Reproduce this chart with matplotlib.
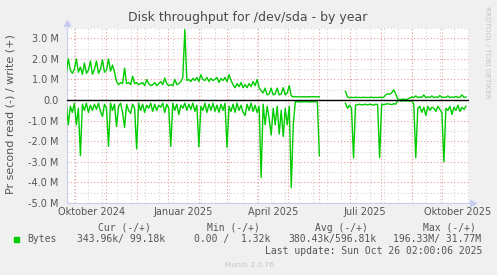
import numpy as np
import pandas as pd
import matplotlib
matplotlib.use("Agg")
import matplotlib.pyplot as plt
from matplotlib.patches import Rectangle

# daily averages sampled every 2 days, values in M bytes/s
start = "2024-09-22"
step_days = 2
write_vals = [
    1.3, 2.0, 1.45, 1.3, 1.5, 2.0, 1.35, 1.6, 1.25, 1.8,
    1.3, 1.45, 1.9, 1.25, 1.5, 1.9, 1.3, 1.5, 1.95, 1.35,
    1.45, 2.0, 1.4, 1.7, 1.35, 0.9, 0.75, 0.85, 0.8, 1.55,
    0.8, 0.85, 0.75, 1.15, 0.8, 0.85, 0.75, 0.8, 0.85, 0.7,
    1.0, 0.8, 0.7, 0.75, 0.85, 0.7, 0.8, 0.9, 0.75, 1.07,
    0.8, 0.7, 0.75, 0.7, 1.0, 0.75, 0.8, 0.9, 1.1, 3.42,
    0.95, 1.0, 0.9, 1.05, 0.95, 1.1, 0.9, 1.23, 1.0, 0.95,
    1.1, 0.9, 1.05, 0.95, 1.0, 1.1, 0.85, 1.05, 0.95, 1.1,
    0.9, 1.23, 0.95, 0.75, 0.6, 0.8, 0.65, 0.85, 0.6, 0.75,
    0.6, 0.8, 0.65, 0.9, 0.7, 1.0, 0.6, 0.45, 0.35, 0.58,
    0.25, 0.3, 0.58, 0.25, 0.3, 0.58, 0.25, 0.3, 0.6, 0.25,
    0.35, 0.7, 0.2, 0.16, 0.16, 0.16, 0.16, 0.16, 0.16, 0.16,
    0.16, 0.16, 0.16, 0.16, 0.16, 0.16, 0.16, None, None, None,
    None, None, None, None, None, None, None, None, None, 0.42,
    0.14, 0.12, 0.13, 0.12, 0.14, 0.12, 0.13, 0.12, 0.14, 0.12,
    0.13, 0.12, 0.14, 0.12, 0.13, 0.12, 0.14, 0.12, 0.13, 0.25,
    0.3, 0.28, 0.35, 0.5, 0.3, 0.05, 0.02, 0.03, 0.05, 0.02,
    0.05, 0.1, 0.15, 0.12, 0.2, 0.12, 0.15, 0.13, 0.25, 0.12,
    0.15, 0.13, 0.2, 0.12, 0.15, 0.13, 0.22, 0.12, 0.14, 0.13,
    0.2, 0.12, 0.15, 0.13, 0.18, 0.12, 0.14, 0.25, 0.13, 0.15,
]
read_vals = [
    -0.2, -1.2, -0.3, -0.6, -0.15, -1.2, -0.4, -2.7, -0.2, -0.5,
    -0.15, -0.6, -0.25, -0.5, -0.2, -0.45, -0.15, -0.55, -0.8, -0.2,
    -0.4, -2.25, -0.15, -0.5, -0.2, -1.28, -0.3, -0.15, -0.6, -1.33,
    -0.2, -0.5, -0.65, -0.2, -0.4, -2.37, -0.15, -0.5, -0.2, -0.6,
    -0.25, -0.4, -0.15, -0.55, -0.2, -0.5, -0.25, -0.35, -0.15, -0.6,
    -0.2, -0.4, -2.25, -0.15, -0.5, -0.2, -0.7, -0.25, -0.4, -0.15,
    -0.5, -0.2, -0.45, -0.15, -0.55, -0.25, -2.28, -0.3, -0.5, -0.15,
    -0.6, -0.2, -0.5, -0.15, -0.55, -0.25, -0.6, -0.2, -0.5, -0.15,
    -2.3, -0.3, -0.55, -0.2, -0.6, -0.15, -0.5, -0.25, -0.6, -0.75,
    -0.2, -0.5, -0.15, -0.55, -0.25, -0.6, -0.3, -3.76, -0.2, -1.2,
    -0.3, -0.9, -1.7, -0.4, -1.2, -0.3, -1.65, -0.5, -1.77, -0.4,
    -1.2, -0.3, -4.25, -1.2, -0.08, -0.08, -0.08, -0.1, -0.08, -0.08,
    -0.08, -0.1, -0.08, -0.08, -0.08, -0.1, -2.7, None, None, None,
    None, None, None, None, None, None, None, None, None, -0.15,
    -0.4, -0.25, -0.4, -2.8, -0.25, -0.22, -0.2, -0.24, -0.22, -0.2,
    -0.24, -0.2, -0.22, -0.25, -0.2, -0.22, -2.8, -0.2, -0.22, -0.2,
    -0.18, -0.2, -0.22, -0.18, -0.2, -0.03, -0.03, -0.05, -0.03, -0.04,
    -0.03, -0.05, -0.03, -0.2, -2.8, -0.4, -0.3, -0.6, -0.35, -0.75,
    -0.3, -0.5, -0.35, -0.4, -0.55, -0.3, -0.45, -0.6, -3.0, -0.4,
    -0.5, -0.3, -0.7, -0.35, -0.5, -0.25, -0.55, -0.35, -0.45, -0.3,
]
x_labels = ["Oktober 2024", "Januar 2025", "April 2025", "Juli 2025", "Oktober 2025"]
x_label_dates = ["2024-10-17", "2025-01-16", "2025-04-16", "2025-07-16", "2025-10-17"]
y_ticks = [3, 2, 1, 0, -1, -2, -3, -4, -5]
y_ticklabels = ["3.0 M", "2.0 M", "1.0 M", "0.0", "-1.0 M", "-2.0 M", "-3.0 M", "-4.0 M", "-5.0 M"]
legend_cols = ["Cur (-/+)", "Min (-/+)", "Avg (-/+)", "Max (-/+)"]
legend_vals = ["343.96k/ 99.18k", "0.00 /  1.32k", "380.43k/596.81k", "196.33M/ 31.77M"]

dates = pd.date_range(start, periods=len(write_vals), freq=f"{step_days}D")
w = np.array([np.nan if v is None else v for v in write_vals]) * 1e6
r = np.array([np.nan if v is None else v for v in read_vals]) * 1e6

txt = "#555555"
green = "#00CC00"
fig = plt.figure(figsize=(4.97, 2.75), dpi=100, facecolor="#F0F0F0")
ax = fig.add_axes([67/497, 72/275, 401.5/497, 175/275])
ax.set_facecolor("white")

xmin, xmax = pd.Timestamp("2024-09-22 16:00"), pd.Timestamp("2025-10-27 12:00")
ax.set_xlim(xmin, xmax)
ax.set_ylim(-5e6, 3.5e6)

# grid: gray every 2 weeks / half M, red every month / 1 M
for d in pd.date_range("2024-09-30", xmax, freq="14D"):
    ax.axvline(d, color="#D4D4D4", lw=0.8, ls=(0, (1, 2)), zorder=1)
for y in np.arange(-4.5, 3.6, 1.0):
    ax.axhline(y*1e6, color="#D4D4D4", lw=0.8, ls=(0, (1, 2)), zorder=1)
for d in pd.date_range("2024-10-01", xmax, freq="MS"):
    ax.axvline(d, color="#E8A0A0", lw=0.8, ls=(0, (1, 2)), zorder=1.5)
for y in y_ticks:
    ax.axhline(y*1e6, color="#E8A0A0", lw=0.8, ls=(0, (1, 2)), zorder=1.5)

ax.plot(dates, w, color=green, lw=1.0, zorder=3)
ax.plot(dates, r, color=green, lw=1.0, zorder=3)
ax.axhline(0, color="black", lw=1.0, zorder=4)

for s in ["top", "right"]:
    ax.spines[s].set_visible(False)
for s in ["left", "bottom"]:
    ax.spines[s].set_color("#C8CCF0")
    ax.spines[s].set_linewidth(0.8)
ax.plot([0], [1.03], marker="^", color="#C8CCF0", ms=5, transform=ax.transAxes, clip_on=False)
ax.plot([1.01], [0], marker=">", color="#C8CCF0", ms=5, transform=ax.transAxes, clip_on=False)

ax.set_yticks([y*1e6 for y in y_ticks])
ax.set_yticklabels(y_ticklabels)
ax.set_xticks(pd.to_datetime(x_label_dates))
ax.set_xticklabels(x_labels)
ax.tick_params(length=0, labelsize=7, labelcolor=txt, pad=3)
ax.tick_params(axis="y", pad=6)
ax.set_ylabel("Pr second read (-) / write (+)", fontsize=8, color=txt)
ax.yaxis.set_label_coords(-0.128, 0.51)

fig.text(248/497, 1 - 18/275, "Disk throughput for /dev/sda - by year", ha="center", va="center",
         fontsize=9, color="#4a4a4a")
fig.text(487/497, 1 - 52/275, "RRDTOOL / TOBI OETIKER", rotation=270, ha="center", va="center",
         fontsize=5.2, color="#C4C4C4")

mono = "DejaVu Sans Mono"
col_x = [98, 207, 315, 423]
for cx, lab in zip(col_x, legend_cols):
    fig.text(cx/497, 1 - 228/275, lab, family=mono, fontsize=7, color=txt, va="center")
fig.add_artist(Rectangle((14/497, 1 - 242/275), 5/497, 5/275, color=green, transform=fig.transFigure))
fig.text(27/497, 1 - 239/275, "Bytes", family=mono, fontsize=7, color=txt, va="center")
val_x = [77, 194, 288, 393]
for vx, v in zip(val_x, legend_vals):
    fig.text(vx/497, 1 - 239/275, v, family=mono, fontsize=7, color=txt, va="center")
fig.text(482/497, 1 - 251/275, "Last update: Sun Oct 26 02:00:06 2025", family=mono, fontsize=7,
         color=txt, va="center", ha="right")
fig.text(250/497, 1 - 265/275, "Munin 2.0.76", fontsize=5.4, color="#C4C4C4", ha="center", va="center")

fig.savefig("out.png", dpi=100, facecolor=fig.get_facecolor())
